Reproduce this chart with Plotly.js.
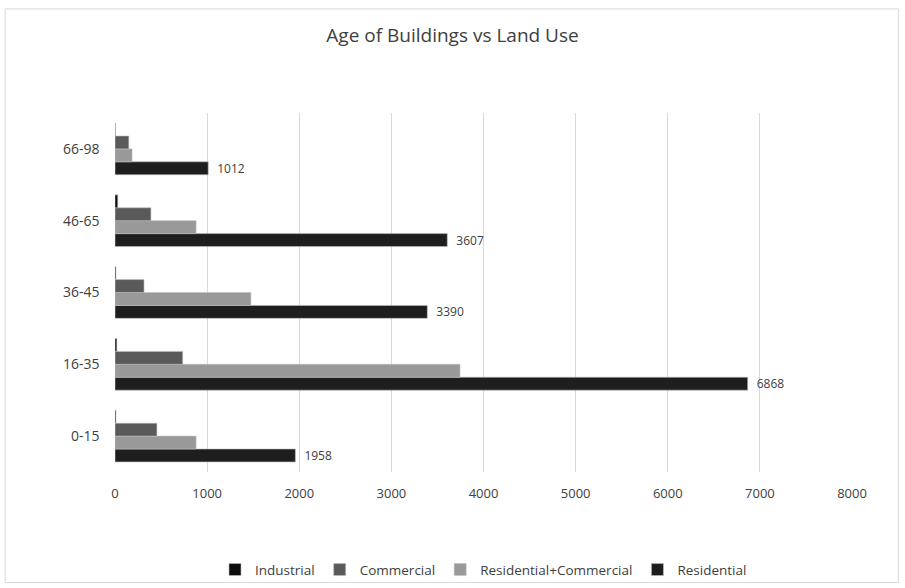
<!DOCTYPE html>
<html><head><meta charset="utf-8">
<script src="https://cdn.plot.ly/plotly-3.0.1.min.js"></script>
<style>html,body{margin:0;padding:0;background:#fff;}#chart{width:905px;height:588px;}</style>
</head><body><div id="chart"></div>
<script>
const categories = ["0-15", "16-35", "36-45", "46-65", "66-98"];
const industrial = [10, 20, 10, 30, 5];
const commercial = [455, 735, 315, 390, 150];
const resCommercial = [880, 3745, 1475, 880, 185];
const residential = [1958, 6868, 3390, 3607, 1012];
const xTicks = [0, 1000, 2000, 3000, 4000, 5000, 6000, 7000, 8000];

const font = "Open Sans, Liberation Sans, sans-serif";
function bar(name, vals, color, labels) {
  const t = {type: "bar", orientation: "h", name: name, y: categories, x: vals,
    marker: {color: color, line: {color: "#bdbdbd", width: 0.6}}, hoverinfo: "x+name"};
  if (labels) { t.text = vals.map(v => "\u2002" + v); t.textposition = "outside"; t.cliponaxis = false;
    t.constraintext = "none";
    t.textfont = {size: 12, color: "#404040", family: font}; }
  else { t.textposition = "none"; }
  return t;
}
const data = [
  bar("Residential", residential, "#1e1e1e", true),
  bar("Residential+Commercial", resCommercial, "#999999"),
  bar("Commercial", commercial, "#5a5a5a"),
  bar("Industrial", industrial, "#0d0d0d")
];
const layout = {
  width: 905, height: 588,
  paper_bgcolor: "#fff", plot_bgcolor: "#fff",
  font: {family: font, color: "#404040"},
  title: {text: "Age of Buildings vs Land Use", x: 0.5, xanchor: "center", y: 0.94, yanchor: "middle",
    font: {size: 19, color: "#404040", family: font}},
  margin: {l: 115, r: 53, t: 113, b: 116, autoexpand: false},
  barmode: "group", bargap: 0.28, bargroupgap: 0,
  xaxis: {range: [0, 8000], tickvals: xTicks, ticktext: xTicks.map(String), showgrid: true,
    gridcolor: "#d9d9d9", gridwidth: 1, zeroline: false, showline: false,
    tickfont: {size: 13, color: "#404040"}, ticks: "", ticklabelstandoff: 12},
  yaxis: {showgrid: false, zeroline: false, showline: false, ticks: "",
    tickfont: {size: 14, color: "#404040"}, ticksuffix: "    "},
  legend: {orientation: "h", x: 0.5, xanchor: "center", yref: "container", y: 0.031, yanchor: "middle",
    bgcolor: "rgba(0,0,0,0)",
    traceorder: "reversed", font: {size: 13.5, color: "#404040"}, itemwidth: 30},
  showlegend: true,
  shapes: [{type: "rect", xref: "paper", yref: "paper", x0: -0.149, x1: 1.063, y0: -0.308, y1: 1.29,
    line: {color: "#d9d9d9", width: 1}, fillcolor: "rgba(0,0,0,0)"}]
};
Plotly.newPlot("chart", data, layout, {displayModeBar: false, staticPlot: true});
</script></body></html>
